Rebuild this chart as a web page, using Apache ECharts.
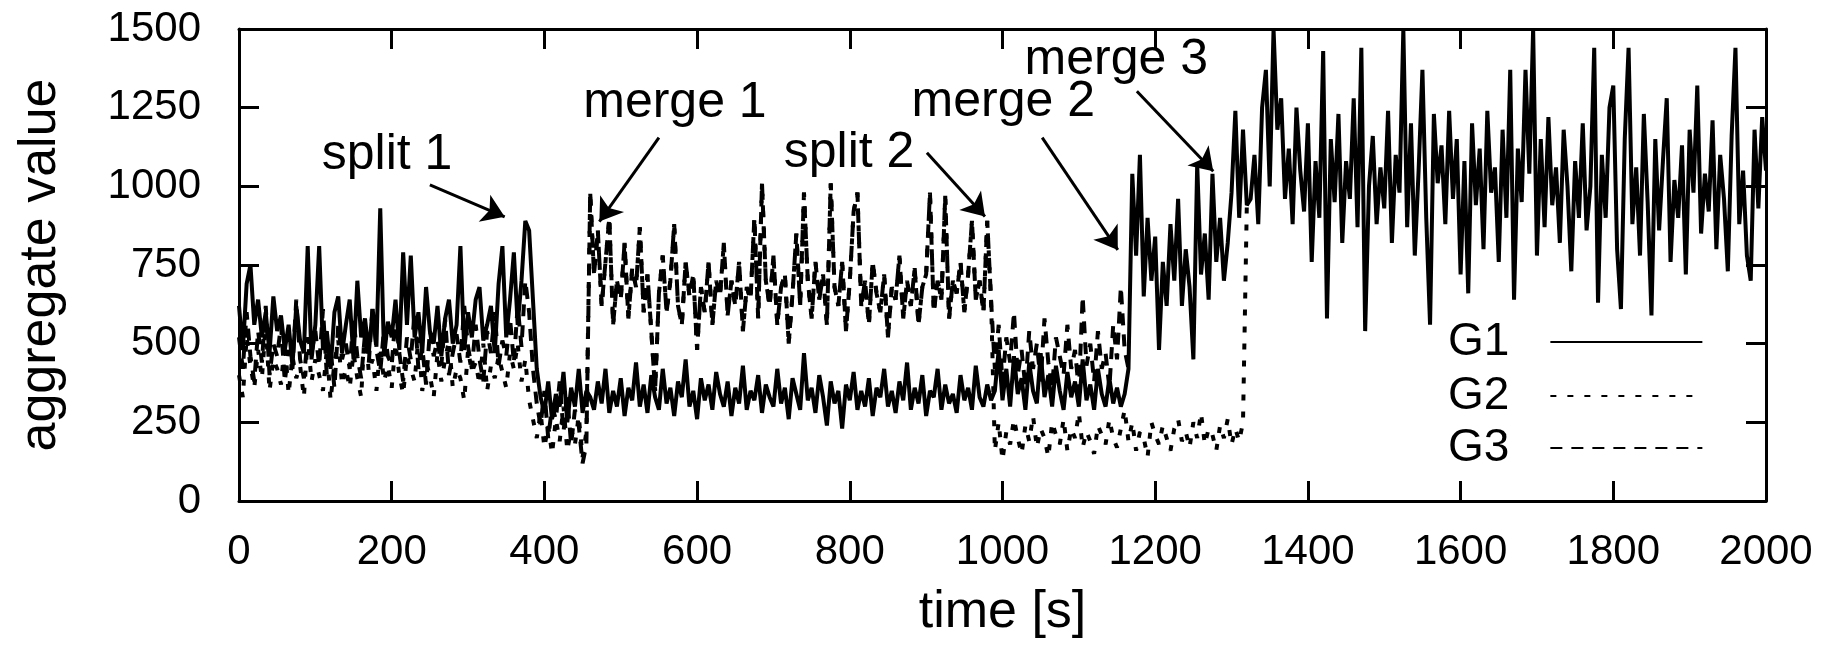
<!DOCTYPE html>
<html>
<head>
<meta charset="utf-8">
<title>aggregate value</title>
<script src="https://cdn.jsdelivr.net/npm/echarts@6.0.0/dist/echarts.min.js"></script>
<style>
  html, body { margin: 0; padding: 0; background: #fff; }
  #chart { width: 1840px; height: 652px; }
</style>
</head>
<body>
<div id="chart"></div>
<script>
// sampling step of the traces, seconds
const STEP = 5;

const xTicks = { min: 0, max: 2000, interval: 200 };
const yTicks = { min: 0, max: 1500, interval: 250 };

// G1 (solid), t = 0 .. 2000
const g1Early = [
  620, 480, 690, 750, 560, 640, 520, 600, 470, 650,
  540, 590, 480, 560, 430, 620, 510, 470, 810, 450,
  560, 810, 480, 540, 420, 600, 650, 470, 560, 640,
  450, 700, 520, 580, 470, 610, 490, 930, 460, 570,
  520, 640, 480, 790, 560, 780, 520, 600, 470, 680,
  540, 500, 620, 460, 580, 640, 500, 560, 810, 480,
  600, 520, 640, 680, 510, 560, 620, 470, 690, 810,
  520, 640, 790, 560, 700, 890
];
const g1Split = [860, 640, 420, 330, 280, 380, 260, 340, 300, 410, 250, 360, 300, 420, 280, 350];
const g1Low = [
  330, 290, 380, 310, 420, 280, 350, 300, 390, 270,
  360, 320, 440, 300, 370, 280, 400, 330, 290, 420,
  310, 360, 270, 380, 330, 450, 300, 350, 260, 390,
  320, 370, 290, 410, 340, 300, 380, 270, 360, 310,
  430, 290, 350, 320, 400, 280, 370, 330, 300, 420,
  310, 360, 260, 390, 340, 290, 470, 320, 360, 280,
  400, 330, 240, 380, 310, 350, 230, 370, 320, 410,
  290, 350, 300, 390, 270, 360, 330, 420, 300, 350,
  280, 380, 320, 440, 290, 360, 310, 400, 270, 350,
  330, 420, 290, 370, 310, 340, 280, 400, 320, 360,
  290, 430, 330, 300, 370, 320
];
const g1Mid = [
  350, 480, 320, 420, 300, 460, 340, 390, 290, 440,
  350, 310, 470, 330, 400, 300, 430, 350, 290, 410,
  330, 380, 300, 450, 320, 370, 290, 420, 340, 300,
  390, 310, 360, 300, 340
];
const g1Merge2 = [
  420, 1040, 780, 1100, 650, 900, 700, 840, 480, 760,
  620, 880, 700, 960, 620, 800, 680, 450, 1070, 720,
  850, 640, 1040, 760, 900, 700, 820, 980, 1240, 900,
  1180, 940
];
const g1Late = [
  960, 1100, 880, 1250, 1370, 1000, 1500, 1180, 1280, 960,
  1120, 880, 1250, 1050, 920, 1200, 760, 1080, 900, 1430,
  580, 1150, 950, 1230, 820, 1080, 960, 1280, 870, 1440,
  540, 1000, 1160, 880, 1060, 930, 1240, 820, 1100, 980,
  1500, 870, 1200, 780, 1050, 1370, 900, 560, 1230, 1010,
  1130, 880, 1240, 960, 1150, 720, 1080, 660, 1200, 940,
  1120, 800, 1240, 980, 1060, 760, 1180, 900, 1370, 640,
  1120, 950, 1370, 1040, 1500, 780, 1150, 870, 1220, 940,
  1060, 820, 1180, 1000, 730, 1080, 900, 1200, 860, 1000,
  1440, 630, 1100, 900, 1250, 1320, 800, 610, 1150, 1440,
  880, 1060, 780, 1230, 950, 590, 1150, 860, 1080, 1280,
  760, 1020, 900, 1130, 720, 1180, 980, 1320, 850, 1040,
  920, 1210, 800, 1100, 960, 730, 1160, 1440, 880, 1050,
  780, 700, 1180, 930, 1220, 1050
];

// G2 (dotted), t = 0 .. 1320
const g2Early = [
  400, 330, 520, 430, 360, 480, 390, 560, 350, 450,
  420, 370, 500, 340, 460, 390, 430, 330, 520, 380,
  450, 400, 350, 480, 320, 440, 510, 370, 420, 360,
  470, 390, 330, 560, 410, 450, 350, 490, 380, 430,
  360, 500, 400, 340, 460, 420, 380, 520, 350, 440,
  400, 330, 470, 380, 450, 510, 360, 420, 390, 320,
  480, 410, 440, 370, 500, 350, 430, 390, 460, 410,
  360, 470, 420, 500, 380, 450
];
const g2Split = [320, 260, 200, 280, 170, 240, 150, 260, 190, 300, 160, 230, 180, 270, 140, 220];
const g2Low = [
  160, 250, 130, 220, 180, 260, 200, 150, 240, 190,
  270, 170, 230, 200, 140, 250, 210, 180, 260, 160,
  230, 200, 280, 170, 220, 190, 150, 240, 210, 180,
  260, 200, 170, 230, 290, 190, 250, 160, 220, 200,
  140, 250, 210, 180, 240, 200, 160, 230, 260, 190,
  220, 170, 250, 200, 280, 180, 230, 210, 160, 240,
  200, 260, 180, 230, 190, 250, 940
];

// G3 (dashed), t = 0 .. 1165
const g3Early = [
  520, 420, 600, 460, 380, 540, 440, 620, 400, 500,
  460, 560, 380, 480, 420, 640, 450, 390, 520, 470,
  540, 430, 610, 400, 480, 360, 560, 450, 500, 420,
  580, 460, 390, 530, 440, 620, 480, 410, 550, 460,
  430, 590, 470, 380, 520, 450, 600, 420, 490, 370,
  540, 460, 510, 430, 580, 400, 470, 530, 440, 620,
  490, 420, 560, 450, 380, 540, 470, 600, 430, 510,
  460, 580, 440, 620, 490, 700
];
const g3Split = [600, 420, 310, 240, 350, 200, 300, 260, 380, 220, 330, 180, 290, 240, 120, 180];
const g3Mid = [
  420, 560, 380, 520, 440, 600, 400, 480, 360, 540,
  420, 500, 380, 580, 440, 360, 520, 460, 400, 560,
  420, 480, 350, 650, 430, 500, 380, 540, 420, 470,
  360, 560, 450, 680, 480, 420
];

// G2 and G3 merged between merge 1 and split 2, t = 460 .. 985
const merged23 = [
  980, 720, 860, 620, 760, 900, 560, 700, 640, 820,
  580, 740, 680, 870, 600, 720, 540, 350, 660, 780,
  600, 700, 880, 620, 560, 760, 650, 720, 480, 680,
  600, 760, 560, 700, 650, 820, 590, 700, 620, 760,
  540, 680, 640, 900, 580, 1010, 700, 620, 780, 560,
  680, 720, 500, 660, 850, 620, 980, 700, 580, 760,
  640, 720, 560, 1010, 680, 620, 760, 540, 700, 920,
  980, 620, 700, 560, 760, 660, 600, 720, 520, 680,
  640, 780, 580, 700, 620, 740, 560, 680, 720, 980,
  600, 700, 640, 970, 580, 700, 660, 760, 600, 720,
  890, 640, 700, 600, 890, 640
];

const g1 = [...g1Early, ...g1Split, ...g1Low, ...g1Mid, ...g1Merge2, ...g1Late];
const g2 = [...g2Early, ...g2Split, ...merged23, ...g2Low];
const g3 = [...g3Early, ...g3Split, ...merged23, ...g3Mid];

// annotation text and arrows, in data coordinates
const annotations = [
  { text: 'split 1', at: [194, 1099], from: [250, 1005], to: [348, 903] },
  { text: 'merge 1', at: [571, 1263], from: [550, 1155], to: [472, 888] },
  { text: 'split 2', at: [799, 1104], from: [901, 1107], to: [977, 904] },
  { text: 'merge 2', at: [1001, 1266], from: [1052, 1155], to: [1151, 798] },
  { text: 'merge 3', at: [1149, 1401], from: [1176, 1302], to: [1276, 1048] }
];

const FONT = '"Liberation Sans", Arial, Helvetica, sans-serif';
const toPairs = vals => vals.map((v, i) => [i * STEP, v]);

const frameAxis = {
  axisLine: { show: true, onZero: false, lineStyle: { color: '#000', width: 3 } },
  axisTick: { show: true, inside: true, length: 20, lineStyle: { color: '#000', width: 3 } },
  splitLine: { show: false }
};
const tickLabel = { fontSize: 42, color: '#000', fontFamily: FONT, formatter: v => String(v) };

const chart = echarts.init(document.getElementById('chart'), null, { renderer: 'canvas' });
chart.setOption({
  animation: false,
  backgroundColor: '#fff',
  textStyle: { fontFamily: FONT, color: '#000' },
  grid: { left: 239, right: 74, top: 29, bottom: 151, outerBoundsMode: 'none' },
  xAxis: [
    {
      type: 'value', ...xTicks, position: 'bottom', ...frameAxis,
      axisLabel: { ...tickLabel, margin: 30 },
      name: 'time [s]', nameLocation: 'middle', nameGap: 86,
      nameTextStyle: { fontSize: 52, color: '#000', fontFamily: FONT }
    },
    { type: 'value', ...xTicks, position: 'top', ...frameAxis, axisLabel: { show: false } }
  ],
  yAxis: [
    {
      type: 'value', ...yTicks, position: 'left', ...frameAxis,
      axisLabel: { ...tickLabel, margin: 38 },
      name: 'aggregate value', nameLocation: 'middle', nameGap: 172,
      nameTextStyle: { fontSize: 52, color: '#000', fontFamily: FONT }
    },
    { type: 'value', ...yTicks, position: 'right', ...frameAxis, axisLabel: { show: false } }
  ],
  legend: [['G1', 319], ['G2', 373], ['G3', 425]].map(([name, top]) => ({
    data: [name],
    left: 1448,
    top: top,
    orient: 'horizontal',
    align: 'right',
    padding: 0,
    itemWidth: 152,
    itemHeight: 14,
    selectedMode: false,
    itemStyle: { opacity: 0 },
    textStyle: { fontSize: 46, color: '#000', fontFamily: FONT, padding: [0, 36, 0, 0] }
  })),
  series: [
    {
      name: 'G3', type: 'line', data: toPairs(g3),
      symbol: 'none', showSymbol: false,
      lineStyle: { color: '#000', width: 4, type: [12, 9] }
    },
    {
      name: 'G2', type: 'line', data: toPairs(g2),
      symbol: 'none', showSymbol: false,
      lineStyle: { color: '#000', width: 4, type: [6, 11] }
    },
    {
      name: 'G1', type: 'line', data: toPairs(g1),
      symbol: 'none', showSymbol: false,
      lineStyle: { color: '#000', width: 4 },
      markLine: {
        silent: true,
        symbol: ['none', 'arrow'],
        symbolSize: 22,
        label: { show: false },
        lineStyle: { color: '#000', width: 3, type: 'solid' },
        emphasis: { disabled: true },
        data: annotations.map(a => [{ coord: a.from }, { coord: a.to }])
      },
      markPoint: {
        silent: true,
        symbol: 'rect',
        symbolSize: 1,
        itemStyle: { color: 'rgba(0,0,0,0)' },
        label: {
          show: true, position: 'inside', formatter: '{b}',
          fontSize: 50, color: '#000', fontFamily: FONT
        },
        data: annotations.map(a => ({ name: a.text, coord: a.at }))
      }
    }
  ]
});
</script>
</body>
</html>
